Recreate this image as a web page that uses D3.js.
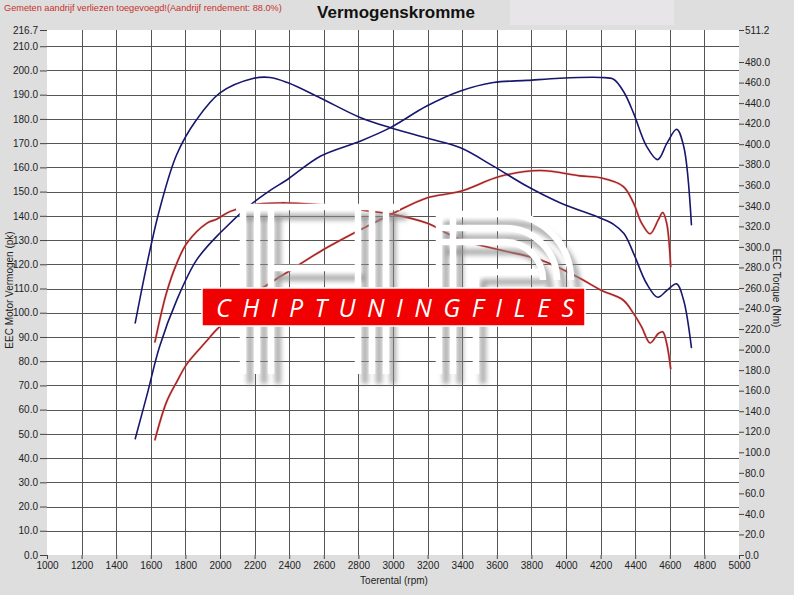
<!DOCTYPE html>
<html>
<head>
<meta charset="utf-8">
<script src="https://cdn.jsdelivr.net/npm/d3@7/dist/d3.min.js"></script>
<style>
  html, body { margin: 0; padding: 0; background: #dedede; }
  svg { display: block; font-family: "Liberation Sans", Arial, sans-serif; }
</style>
</head>
<body>
<svg id="chart" width="794" height="595"></svg>
<script>
// Dyno run: engine power (pk) and torque (Nm) against engine speed (rpm)
const tunedRpm    = [1510, 1580, 1650, 1750, 1865, 2000, 2190, 2290, 2390, 2580, 2810, 2985, 3195, 3390, 3580, 3775, 3965, 4200, 4275, 4335, 4390, 4465, 4530, 4585, 4640, 4680, 4725];
const tunedPower  = [48.0, 66.6, 85.9, 105.2, 121.8, 132.9, 145.3, 150.5, 155.0, 164.6, 170.8, 176.4, 185.3, 191.5, 195.0, 195.9, 196.8, 197.1, 196.4, 191.0, 182.5, 168.8, 163.2, 170.2, 175.7, 168.8, 136.3];
const tunedTorque = [226.0, 285.0, 336.0, 390.0, 424.0, 450.0, 464.0, 465.0, 460.0, 445.0, 426.0, 416.0, 406.0, 396.5, 378.6, 359.0, 343.0, 328.0, 322.0, 313.0, 294.0, 264.6, 251.0, 258.0, 264.0, 248.0, 202.0];

const stockRpm    = [1624, 1690, 1750, 1810, 1925, 1980, 2060, 2195, 2350, 2385, 2580, 2810, 3005, 3195, 3390, 3620, 3850, 4080, 4200, 4330, 4390, 4437, 4486, 4534, 4559, 4582, 4605];
const stockPower  = [47.6, 63.0, 71.5, 79.0, 88.5, 93.0, 98.0, 107.5, 115.0, 116.5, 125.3, 134.2, 141.2, 147.4, 150.1, 156.3, 158.7, 156.5, 155.7, 152.2, 145.3, 137.0, 132.6, 138.4, 141.4, 137.0, 119.0];
const stockTorque = [207.5, 254.8, 284.0, 304.0, 323.2, 327.0, 334.6, 341.1, 342.8, 342.8, 341.1, 336.0, 331.4, 323.2, 307.0, 297.0, 287.4, 269.5, 258.0, 248.3, 235.3, 222.2, 206.5, 215.7, 217.3, 206.0, 181.5];

const rpmTicks    = d3.range(1000, 5001, 200);
const powerTicks  = d3.range(0, 211, 10).concat([216.7]);
const torqueTicks = d3.range(0, 481, 20).concat([511.2]);

const noteText  = "Gemeten aandrijf verliezen toegevoegd!(Aandrijf rendement: 88.0%)";
const titleText = "Vermogenskromme";
const xTitle    = "Toerental (rpm)";
const yTitleL   = "EEC Motor Vermogen (pk)";
const yTitleR   = "EEC Torque (Nm)";
const bannerText = "CHIPTUNINGFILES";

const svg = d3.select("#chart");
const W = 794, H = 595;
const plot = { left: 47, right: 739, top: 30, bottom: 555 };

const x  = d3.scaleLinear().domain([1000, 5000]).range([plot.left, plot.right]);
const yP = d3.scaleLinear().domain([0, 216.7]).range([plot.bottom, plot.top]);
const yT = d3.scaleLinear().domain([0, 511.2]).range([plot.bottom, plot.top]);

// backgrounds
svg.append("rect").attr("width", W).attr("height", H).attr("fill", "#dedede");
svg.append("rect").attr("x", 510).attr("y", 0).attr("width", 164).attr("height", 25).attr("fill", "#e7e5e7");
svg.append("rect")
  .attr("x", plot.left).attr("y", plot.top)
  .attr("width", plot.right - plot.left).attr("height", plot.bottom - plot.top)
  .attr("fill", "#ffffff");

// header
svg.append("text").attr("x", 4).attr("y", 11)
  .attr("font-size", 9.2).attr("fill", "#c8302c")
  .text(noteText);
svg.append("text").attr("x", 396).attr("y", 18)
  .attr("text-anchor", "middle").attr("font-size", 17).attr("font-weight", "bold").attr("fill", "#111")
  .text(titleText);

// grid
const grid = svg.append("g").attr("stroke", "#555").attr("stroke-width", 1).attr("shape-rendering", "crispEdges");
grid.selectAll("line.v").data(rpmTicks.filter(d => d > 1000 && d < 5000)).join("line")
  .attr("class", "v")
  .attr("x1", d => Math.round(x(d)) + 0.5).attr("x2", d => Math.round(x(d)) + 0.5)
  .attr("y1", plot.top).attr("y2", plot.bottom);
grid.selectAll("line.h").data(powerTicks.filter(d => d > 0 && d < 216.7)).join("line")
  .attr("class", "h")
  .attr("y1", d => Math.round(yP(d)) + 0.5).attr("y2", d => Math.round(yP(d)) + 0.5)
  .attr("x1", plot.left).attr("x2", plot.right);

// axes
const fmt = d3.format(".1f");
const styleAxis = g => {
  g.select(".domain").remove();
  g.selectAll(".tick line").attr("stroke", "#444");
  g.selectAll(".tick text").attr("fill", "#222").attr("font-size", 10)
    .attr("font-family", "'Liberation Sans', Arial, sans-serif");
};
svg.append("g").attr("transform", `translate(${plot.left},0)`)
  .call(d3.axisLeft(yP).tickValues(powerTicks).tickFormat(fmt).tickSize(7).tickPadding(2))
  .call(styleAxis);
svg.append("g").attr("transform", `translate(${plot.right},0)`)
  .call(d3.axisRight(yT).tickValues(torqueTicks).tickFormat(fmt).tickSize(5).tickPadding(1))
  .call(styleAxis);
svg.append("g").attr("transform", `translate(0,${plot.bottom})`)
  .call(d3.axisBottom(x).tickValues(rpmTicks).tickFormat(d3.format("d")).tickSize(4).tickPadding(3))
  .call(styleAxis);

// axis titles
svg.append("text").attr("transform", "translate(13,290) rotate(-90)")
  .attr("text-anchor", "middle").attr("font-size", 10).attr("fill", "#222").text(yTitleL);
svg.append("text").attr("transform", "translate(773,288) rotate(90)")
  .attr("text-anchor", "middle").attr("font-size", 10).attr("fill", "#222").text(yTitleR);
svg.append("text").attr("x", 394).attr("y", 584)
  .attr("text-anchor", "middle").attr("font-size", 10).attr("fill", "#222").text(xTitle);

// curves
const curvesG = svg.append("g").attr("fill", "none").attr("stroke-linejoin", "round").attr("stroke-linecap", "round");
const mkLine = (rpms, yScale) => d3.line()
  .x((d, i) => x(rpms[i]))
  .y(d => yScale(d))
  .curve(d3.curveCatmullRom.alpha(0.5));

const series = [
  { rpm: stockRpm, vals: stockTorque, y: yT, color: "#a82424", halo: true },
  { rpm: stockRpm, vals: stockPower,  y: yP, color: "#a82424", halo: true },
  { rpm: tunedRpm, vals: tunedTorque, y: yT, color: "#17176e", halo: false },
  { rpm: tunedRpm, vals: tunedPower,  y: yP, color: "#17176e", halo: false }
];
series.forEach(s => {
  const path = mkLine(s.rpm, s.y)(s.vals);
  if (s.halo) {
    curvesG.append("path").attr("d", path).attr("stroke", "#eaa8a8").attr("stroke-width", 2.8).attr("opacity", 0.4);
  }
  curvesG.append("path").attr("d", path).attr("stroke", s.color).attr("stroke-width", 1.6);
});

// watermark logo: striped letters with a soft shadow, plus a red banner
const defs = svg.append("defs");
defs.append("filter").attr("id", "soft").attr("x", "-20%").attr("y", "-20%").attr("width", "140%").attr("height", "140%")
  .append("feGaussianBlur").attr("stdDeviation", 2.6);

const logoPaths = [];
// left leg
[243, 257, 271].forEach(cx => logoPaths.push(`M${cx},204 L${cx},374`));
// right leg
[358, 372, 386].forEach(cx => logoPaths.push(`M${cx},206 L${cx},374`));
// cross bar
logoPaths.push("M271,268 L358,268");
// top band
logoPaths.push("M236,207 L400,207");
// P-shaped letter: stems and concentric bowl
[439, 453].forEach(cx => logoPaths.push(`M${cx},212 L${cx},374`));
logoPaths.push("M476,270 L476,374");
[{ y: 214, r: 66 }, { y: 228, r: 52 }, { y: 242, r: 38 }].forEach(b => {
  const cx = 505, cy = b.y + b.r;
  logoPaths.push(`M439,${b.y} L${cx},${b.y} A${b.r},${b.r} 0 0 1 ${cx + b.r},${cy}`);
});
logoPaths.push("M476,272 L538,272");

const wm = svg.append("g").attr("fill", "none").attr("stroke-linecap", "butt");
wm.append("g").attr("transform", "translate(7,10)").attr("filter", "url(#soft)")
  .selectAll("path").data(logoPaths).join("path")
  .attr("d", d => d).attr("stroke", "#8c8c8c").attr("stroke-width", 6).attr("opacity", 0.75);
wm.append("g")
  .selectAll("path").data(logoPaths).join("path")
  .attr("d", d => d).attr("stroke", "#ffffff").attr("stroke-width", 6.5);

const banner = svg.append("g");
banner.append("rect").attr("x", 202).attr("y", 288).attr("width", 383).attr("height", 38)
  .attr("fill", "#f00000").attr("stroke", "#ffffff").attr("stroke-width", 1.5);
banner.append("text").attr("x", 216).attr("y", 317)
  .attr("font-family", "'Open Sans', 'DejaVu Sans', sans-serif").attr("font-style", "italic")
  .attr("font-size", 25).attr("fill", "#ffffff")
  .attr("textLength", 358).attr("lengthAdjust", "spacing")
  .text(bannerText);
</script>
</body>
</html>
